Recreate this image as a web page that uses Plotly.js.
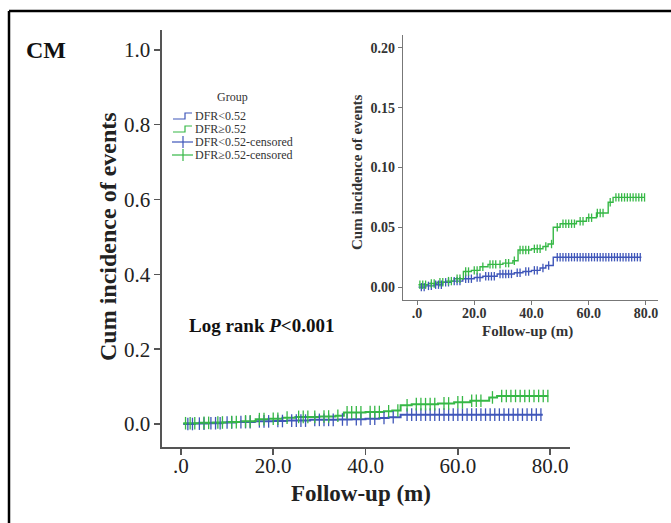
<!DOCTYPE html>
<html>
<head>
<meta charset="utf-8">
<script src="https://cdn.plot.ly/plotly-3.0.1.min.js"></script>
<style>html,body{margin:0;padding:0;background:#fff;}#chart{width:671px;height:523px;}</style>
</head>
<body>
<div id="chart"></div>
<script>
// ---- data ----
const groupNames = ["DFR<0.52", "DFR\u22650.52"];
const blueT = [0.5, 3, 6, 9, 12, 16, 20, 23, 28, 34, 37, 40, 43, 45, 47.6, 78.4];
const blueY = [0.000, 0.001, 0.002, 0.004, 0.005, 0.007, 0.008, 0.009, 0.011, 0.012, 0.013, 0.014, 0.016, 0.018, 0.025, 0.025];
const greenT = [0.5, 4, 7, 10, 13, 16.2, 19, 22, 24.8, 30, 33.5, 35.3, 40, 44, 45.8, 47.6, 50, 55.7, 59.2, 62.7, 66.8, 68.5, 79.6];
const greenY = [0.002, 0.003, 0.004, 0.005, 0.007, 0.013, 0.014, 0.017, 0.019, 0.020, 0.022, 0.031, 0.032, 0.034, 0.036, 0.050, 0.053, 0.055, 0.058, 0.062, 0.071, 0.075, 0.075];
const blueCensor = [1.5, 2.5, 4, 5, 6.5, 7.5, 8.5, 10, 11, 13, 14, 15, 17, 18, 19, 21, 22, 24, 25, 26, 27, 29, 30, 31, 32, 33, 35, 36, 38, 39, 41, 42, 44, 46, 49, 50, 51, 52, 53, 54, 55, 56, 57, 58, 59, 60, 61, 62, 63, 64, 65, 66, 67, 68, 69, 70, 71, 72, 73, 74, 75, 76, 77, 78];
const greenCensor = [1, 2, 3, 5, 6, 8, 9, 11, 12, 14, 15, 17, 18, 20, 21, 23, 25.5, 26.5, 27.5, 29, 31, 32, 34, 36, 37, 38, 39, 41, 42, 43, 45, 47, 49, 51, 52, 53, 54, 55, 57, 58, 60, 61, 63, 64, 65, 67.5, 69.5, 70.5, 71.5, 72.5, 73.5, 74.5, 75.5, 76.5, 77.5, 78.5, 79.5];
const mainYTicks = [0, 0.2, 0.4, 0.6, 0.8, 1.0];
const mainYLabels = ["0.0", "0.2", "0.4", "0.6", "0.8", "1.0"];
const xTicks = [0, 20, 40, 60, 80];
const xLabels = [".0", "20.0", "40.0", "60.0", "80.0"];
const insetYTicks = [0, 0.05, 0.10, 0.15, 0.20];
const insetYLabels = ["0.00", "0.05", "0.10", "0.15", "0.20"];

// ---- helpers ----
const BLUE = "#3f56b9", GREEN = "#36b846";
const SERIF = "Liberation Serif, Times New Roman, serif";
function stepAt(ts, ys, t) {
  let v = ys[0];
  for (let i = 0; i < ts.length; i++) { if (ts[i] <= t) v = ys[i]; }
  return v;
}
const W = 671, H = 523;
const px = x => x / W, py = y => 1 - y / H;

function series(xa, ya, lw, ms) {
  return [
    {x: blueT, y: blueY, xaxis: xa, yaxis: ya, mode: "lines", line: {shape: "hv", color: BLUE, width: lw}, showlegend: false, hoverinfo: "skip"},
    {x: greenT, y: greenY, xaxis: xa, yaxis: ya, mode: "lines", line: {shape: "hv", color: GREEN, width: lw}, showlegend: false, hoverinfo: "skip"},
    {x: blueCensor, y: blueCensor.map(t => stepAt(blueT, blueY, t)), xaxis: xa, yaxis: ya, mode: "markers",
     marker: {symbol: "line-ns", size: ms, line: {color: BLUE, width: 1.3}}, showlegend: false, hoverinfo: "skip"},
    {x: greenCensor, y: greenCensor.map(t => stepAt(greenT, greenY, t)), xaxis: xa, yaxis: ya, mode: "markers",
     marker: {symbol: "line-ns", size: ms, line: {color: GREEN, width: 1.3}}, showlegend: false, hoverinfo: "skip"}
  ];
}
const traces = [...series("x", "y", 2, 9), ...series("x2", "y2", 1.4, 6)];

const axisCommon = {showgrid: false, zeroline: false, showline: true, ticks: "outside", mirror: false, fixedrange: true};
const layout = {
  width: W, height: H,
  margin: {l: 0, r: 0, t: 0, b: 0},
  paper_bgcolor: "#fff", plot_bgcolor: "rgba(0,0,0,0)",
  showlegend: false,
  xaxis: Object.assign({}, axisCommon, {domain: [px(162), px(570)], range: [-4.1, 84.3], anchor: "y",
    tickvals: xTicks, ticktext: xLabels, linecolor: "#555", linewidth: 1.6, ticklen: 6, tickwidth: 1.5, tickcolor: "#555",
    ticklabelstandoff: -7,
    tickfont: {family: SERIF, size: 21, color: "#222"}}),
  yaxis: Object.assign({}, axisCommon, {domain: [py(447), py(30)], range: [-0.0615, 1.053], anchor: "x",
    tickvals: mainYTicks, ticktext: mainYLabels, linecolor: "#555", linewidth: 1.6, ticklen: 6, tickwidth: 1.5, tickcolor: "#555",
    tickfont: {family: SERIF, size: 21, color: "#222"}}),
  xaxis2: Object.assign({}, axisCommon, {domain: [px(403), px(658)], range: [-4.9, 84.2], anchor: "y2",
    tickvals: xTicks, ticktext: xLabels, linecolor: "#777", linewidth: 1.2, ticklen: 4, tickwidth: 1, tickcolor: "#777",
    ticklabelstandoff: -4,
    tickfont: {family: SERIF, size: 14, color: "#333", weight: "bold"}}),
  yaxis2: Object.assign({}, axisCommon, {domain: [py(300), py(35)], range: [-0.0108, 0.2108], anchor: "x2",
    tickvals: insetYTicks, ticktext: insetYLabels, linecolor: "#777", linewidth: 1.2, ticklen: 4, tickwidth: 1, tickcolor: "#777",
    tickfont: {family: SERIF, size: 14, color: "#333", weight: "bold"}}),
  shapes: [
    // outer frame (top and left)
    {type: "line", xref: "paper", yref: "paper", x0: px(9), x1: 1, y0: py(11), y1: py(11), line: {color: "#000", width: 2.5}},
    {type: "line", xref: "paper", yref: "paper", x0: px(9), x1: px(9), y0: py(11), y1: 0, line: {color: "#000", width: 2.5}},
    // legend icons: step lines
    {type: "path", xref: "paper", yref: "paper",
     path: `M ${px(173)} ${py(119)} L ${px(185)} ${py(119)} L ${px(185)} ${py(113)} L ${px(192)} ${py(113)}`, line: {color: BLUE, width: 1.2}},
    {type: "path", xref: "paper", yref: "paper",
     path: `M ${px(173)} ${py(132)} L ${px(185)} ${py(132)} L ${px(185)} ${py(126)} L ${px(192)} ${py(126)}`, line: {color: GREEN, width: 1.2}},
    // legend icons: censored
    {type: "line", xref: "paper", yref: "paper", x0: px(172), x1: px(193), y0: py(142), y1: py(142), line: {color: BLUE, width: 1.2}},
    {type: "line", xref: "paper", yref: "paper", x0: px(183), x1: px(183), y0: py(136), y1: py(148), line: {color: BLUE, width: 1.2}},
    {type: "line", xref: "paper", yref: "paper", x0: px(172), x1: px(193), y0: py(155), y1: py(155), line: {color: GREEN, width: 1.2}},
    {type: "line", xref: "paper", yref: "paper", x0: px(183), x1: px(183), y0: py(149), y1: py(161), line: {color: GREEN, width: 1.2}}
  ],
  annotations: [
    {text: "CM", xref: "paper", yref: "paper", x: px(24), y: py(50), xanchor: "left", yanchor: "middle", showarrow: false,
     font: {family: SERIF, size: 24, color: "#111", weight: "bold"}},
    {text: "Cum incidence of events", xref: "paper", yref: "paper", x: px(108), y: py(237), textangle: -90, showarrow: false,
     xanchor: "center", yanchor: "middle", font: {family: SERIF, size: 24, color: "#222", weight: "bold"}},
    {text: "Follow-up (m)", xref: "paper", yref: "paper", x: px(361), y: py(493), showarrow: false,
     xanchor: "center", yanchor: "middle", font: {family: SERIF, size: 23, color: "#222", weight: "bold"}},
    {text: "Log rank <i>P</i><0.001", xref: "paper", yref: "paper", x: px(187), y: py(325), xanchor: "left", yanchor: "middle", showarrow: false,
     font: {family: SERIF, size: 19, color: "#111", weight: "bold"}},
    {text: "Cum incidence of events", xref: "paper", yref: "paper", x: px(357), y: py(172), textangle: -90, showarrow: false,
     xanchor: "center", yanchor: "middle", font: {family: SERIF, size: 15, color: "#333", weight: "bold"}},
    {text: "Follow-up (m)", xref: "paper", yref: "paper", x: px(527), y: py(331), showarrow: false,
     xanchor: "center", yanchor: "middle", font: {family: SERIF, size: 15, color: "#333", weight: "bold"}},
    {text: "Group", xref: "paper", yref: "paper", x: px(232), y: py(97), showarrow: false, xanchor: "center", yanchor: "middle",
     font: {family: SERIF, size: 12, color: "#333"}},
    {text: groupNames[0], xref: "paper", yref: "paper", x: px(193), y: py(116), showarrow: false, xanchor: "left", yanchor: "middle",
     font: {family: SERIF, size: 12, color: "#333"}},
    {text: groupNames[1], xref: "paper", yref: "paper", x: px(193), y: py(129), showarrow: false, xanchor: "left", yanchor: "middle",
     font: {family: SERIF, size: 12, color: "#333"}},
    {text: groupNames[0] + "-censored", xref: "paper", yref: "paper", x: px(193), y: py(142), showarrow: false, xanchor: "left", yanchor: "middle",
     font: {family: SERIF, size: 12, color: "#333"}},
    {text: groupNames[1] + "-censored", xref: "paper", yref: "paper", x: px(193), y: py(155), showarrow: false, xanchor: "left", yanchor: "middle",
     font: {family: SERIF, size: 12, color: "#333"}}
  ]
};
Plotly.newPlot("chart", traces, layout, {displayModeBar: false, staticPlot: true});
</script>
</body>
</html>
